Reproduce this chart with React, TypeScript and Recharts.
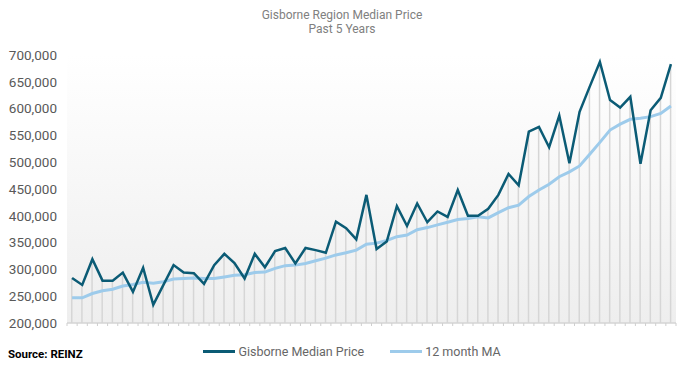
import React from 'react';
import { ComposedChart, Line, Bar, XAxis, YAxis, CartesianGrid } from 'recharts';

// 60 months, Gisborne median sale price and its 12 month moving average
const months = Array.from({ length: 60 }, (_, i) => `M${i + 1}`);

const medianPrice = [
  284000, 271000, 319000, 279000, 279000, 294000, 258000, 303000, 234000, 271000,
  308000, 294000, 293000, 273000, 308000, 329000, 312000, 283000, 329000, 304000,
  334000, 340000, 311000, 340000, 336000, 331000, 389000, 377000, 356000, 439000,
  338000, 352000, 418000, 381000, 423000, 388000, 408000, 398000, 448000, 400000,
  400000, 413000, 439000, 478000, 457000, 557000, 566000, 528000, 587000, 498000,
  594000, 641000, 687000, 616000, 602000, 622000, 497000, 597000, 620000, 683000,
];

const movingAvg = [
  247000, 247000, 255000, 260000, 263000, 269000, 272000, 276000, 274000, 277000,
  282000, 283000, 284000, 283000, 283000, 286000, 289000, 290000, 294000, 295000,
  302000, 307000, 308000, 311000, 316000, 321000, 327000, 331000, 336000, 347000,
  349000, 354000, 361000, 364000, 374000, 378000, 383000, 388000, 393000, 395000,
  398000, 396000, 406000, 415000, 420000, 436000, 448000, 459000, 473000, 482000,
  493000, 515000, 537000, 560000, 571000, 580000, 582000, 585000, 591000, 605000,
];

const yTicks = [200000, 250000, 300000, 350000, 400000, 450000, 500000, 550000, 600000, 650000, 700000];

const data = months.map((m, i) => ({ month: m, median: medianPrice[i], ma: movingAvg[i] }));

const W = 684;
const H = 368;
const PLOT_LEFT = 67;
const PLOT_RIGHT = 8;
const BAND = (W - PLOT_LEFT - PLOT_RIGHT) / months.length;

const DARK = '#0b5b75';
const LIGHT = '#9dcbeb';

const fmt = (v: number) => v.toLocaleString('en-US');

// small tick marks sit on the category boundaries, not the centres
const BoundaryTick = (props: any) => {
  const { x, index } = props;
  const axisY = H - 45;
  const left = x - BAND / 2;
  return (
    <g>
      <line x1={left} x2={left} y1={axisY} y2={axisY + 3} stroke="#cfcfcf" strokeWidth={1} />
      {index === months.length - 1 && (
        <line x1={left + BAND} x2={left + BAND} y1={axisY} y2={axisY + 3} stroke="#cfcfcf" strokeWidth={1} />
      )}
    </g>
  );
};

export default function App() {
  return (
    <div style={{ position: 'absolute', left: 0, top: 0, width: W, height: H, background: '#fff', fontFamily: 'Roboto, "Open Sans", sans-serif' }}>
      <div style={{ position: 'absolute', top: 8, width: W, textAlign: 'center', fontSize: 12, lineHeight: '14px', color: '#808080' }}>
        Gisborne Region Median Price
        <br />
        Past 5 Years
      </div>
      <ComposedChart width={W} height={H} data={data} margin={{ top: 55, right: PLOT_RIGHT, bottom: 40, left: 0 }} barGap={0}>
        <defs>
          <linearGradient id="plotBg" x1="0" y1="0" x2="0" y2="1">
            <stop offset="0%" stopColor="#ffffff" />
            <stop offset="100%" stopColor="#eeeeee" />
          </linearGradient>
        </defs>
        <CartesianGrid horizontal={false} vertical={false} fill="url(#plotBg)" />
        <XAxis
          dataKey="month"
          interval={0}
          axisLine={{ stroke: '#d4d4d4', strokeWidth: 1.5 }}
          tickLine={false}
          tick={<BoundaryTick />}
          height={5}
        />
        <YAxis
          width={PLOT_LEFT}
          domain={[200000, 700000]}
          ticks={yTicks}
          interval={0}
          axisLine={false}
          tickLine={false}
          tickSize={0}
          tickMargin={10}
          tickFormatter={fmt}
          tick={{ fill: '#595959', fontSize: 13.5 }}
        />
        <Bar dataKey="median" barSize={1.5} fill="#d6d6d6" isAnimationActive={false} />
        <Line type="linear" dataKey="ma" stroke={LIGHT} strokeWidth={3} dot={false} isAnimationActive={false} />
        <Line type="linear" dataKey="median" stroke={DARK} strokeWidth={2.5} dot={false} isAnimationActive={false} />
      </ComposedChart>
      <div style={{ position: 'absolute', left: 0, top: 344, width: W, display: 'flex', justifyContent: 'center', alignItems: 'center', gap: 26, fontSize: 12.5, color: '#666', paddingLeft: 20, boxSizing: 'border-box' }}>
        <span style={{ display: 'flex', alignItems: 'center' }}>
          <span style={{ width: 32, height: 3, background: DARK, marginRight: 3, display: 'inline-block' }} />
          Gisborne Median Price
        </span>
        <span style={{ display: 'flex', alignItems: 'center' }}>
          <span style={{ width: 32, height: 3, background: LIGHT, marginRight: 3, display: 'inline-block' }} />
          12 month MA
        </span>
      </div>
      <div style={{ position: 'absolute', left: 8, top: 347, fontSize: 11.5, fontWeight: 700, color: '#000' }}>
        Source: REINZ
      </div>
    </div>
  );
}
